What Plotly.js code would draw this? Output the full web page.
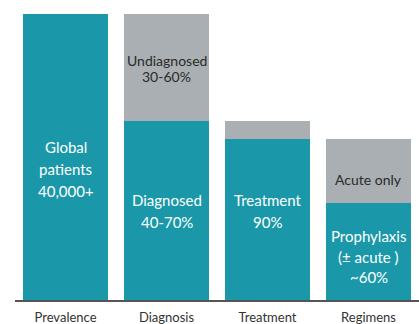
<!DOCTYPE html>
<html>
<head>
<meta charset="utf-8">
<script src="https://cdn.plot.ly/plotly-3.0.1.min.js"></script>
<style>
  html, body { margin: 0; padding: 0; background: #ffffff; }
  #chart { width: 419px; height: 324px; }
</style>
</head>
<body>
<div id="chart"></div>
<script>
// Patient funnel: share of the global patient population at each stage
const categories = ['Prevalence', 'Diagnosis', 'Treatment', 'Regimens'];
// lower (teal) segment of each bar, % of global patients
const reachedValues = [100, 62.5, 56.25, 33.75];
// upper (grey) segment of each bar, % of global patients
const remainderValues = [0, 37.5, 6.25, 22.5];

// text written inside the teal segments
const reachedLabels = ['Global<br>patients<br>40,000+', 'Diagnosed<br>40-70%', 'Treatment<br>90%', 'Prophylaxis<br>(± acute )<br>~60%'];
// text written inside the grey segments
const remainderLabels = ['', 'Undiagnosed<br>30-60%', '', 'Acute only'];

const TEAL = '#1a98aa';
const GREY = '#a9afb2';
const FONT = 'Lato, "Open Sans", sans-serif';

const traces = [
  {
    type: 'bar', x: categories, y: reachedValues,
    marker: { color: TEAL, line: { width: 0 } },
    hoverinfo: 'none'
  },
  {
    type: 'bar', x: categories, y: remainderValues,
    marker: { color: GREY, line: { width: 0 } },
    hoverinfo: 'none'
  }
];

// vertical placement of each text block (data units) and line spacing (px)
const reachedTextY = [45.8, 31.1, 31.1, 15.2];
const reachedGap = [22, 22, 22, 20.5];
const remainderTextY = [0, 81.1, 0, 42.0];
const remainderGap = [0, 16, 0, 16];

const annotations = [];
function addBlock(cat, yVal, text, gap, color, size) {
  if (!text) return;
  const lines = text.split('<br>');
  const n = lines.length;
  lines.forEach((line, i) => {
    annotations.push({
      x: cat, y: yVal, xref: 'x', yref: 'y',
      text: line, showarrow: false,
      yshift: ((n - 1) / 2 - i) * gap,
      font: { family: FONT, size: size, color: color },
      xanchor: 'center', yanchor: 'middle'
    });
  });
}
categories.forEach((c, i) => {
  addBlock(c, reachedTextY[i], reachedLabels[i], reachedGap[i], '#ffffff', 15);
  addBlock(c, remainderTextY[i], remainderLabels[i], remainderGap[i], '#2b2b2b', 14);
});

const layout = {
  width: 419, height: 324,
  margin: { l: 15, r: 0, t: 14, b: 24, pad: 0 },
  paper_bgcolor: '#ffffff', plot_bgcolor: '#ffffff',
  barmode: 'stack', bargap: 0.15,
  showlegend: false,
  xaxis: {
    type: 'category', range: [-0.5, 3.5],
    showline: true, linecolor: '#555555', linewidth: 1.5,
    ticks: '', showgrid: false, zeroline: false,
    ticklabelstandoff: 5,
    tickfont: { family: FONT, size: 13, color: '#333333' }
  },
  yaxis: {
    range: [0, 100], visible: false, showgrid: false, zeroline: false
  },
  annotations: annotations
};

Plotly.newPlot('chart', traces, layout, { staticPlot: true, displayModeBar: false });
</script>
</body>
</html>
